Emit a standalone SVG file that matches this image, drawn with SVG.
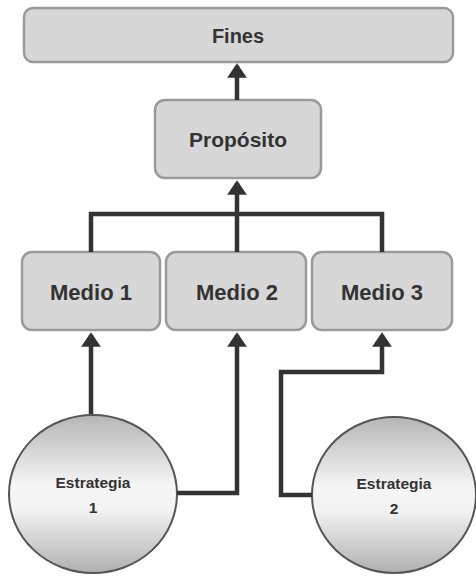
<svg xmlns="http://www.w3.org/2000/svg" width="476" height="578" viewBox="0 0 476 578">
<defs>
<style>
.box{fill:#d7d7d7;stroke:#9a9a9a;stroke-width:2.5}
.circ{fill:url(#g);stroke:#555;stroke-width:2}
.lbl{font-family:"Liberation Sans",Arial,sans-serif;font-weight:bold;fill:#333;text-anchor:middle}
.con{fill:none;stroke:#333;stroke-width:4.5}
</style>
<linearGradient id="g" x1="0" y1="0" x2="0" y2="1">
<stop offset="0" stop-color="#b5b5b5"/>
<stop offset="0.45" stop-color="#f6f6f6"/>
<stop offset="0.6" stop-color="#f2f2f2"/>
<stop offset="1" stop-color="#b0b0b0"/>
</linearGradient>
<marker id="ah" markerWidth="3.2" markerHeight="4.4" refX="2.6" refY="2.2" orient="auto" markerUnits="strokeWidth">
<path d="M0,0 L3.2,2.2 L0,4.4 z" fill="#333"/>
</marker>
</defs>
<g id="fines"><rect class="box" x="24" y="8" width="429" height="54" rx="9"/><text class="lbl" x="238" y="43" font-size="20">Fines</text></g>
<g id="proposito"><rect class="box" x="155" y="100" width="166" height="78" rx="10"/><text class="lbl" x="238" y="147" font-size="21">Propósito</text></g>
<g id="medio1"><rect class="box" x="22" y="252" width="138" height="78" rx="10"/><text class="lbl" x="91" y="300" font-size="22">Medio 1</text></g>
<g id="medio2"><rect class="box" x="166" y="252" width="140" height="78" rx="10"/><text class="lbl" x="237" y="300" font-size="22">Medio 2</text></g>
<g id="medio3"><rect class="box" x="312" y="252" width="140" height="78" rx="10"/><text class="lbl" x="382" y="300" font-size="22">Medio 3</text></g>
<g id="estrategia1"><ellipse class="circ" cx="93" cy="494" rx="84" ry="79"/><text class="lbl" x="93" y="488" font-size="15.5">Estrategia</text><text class="lbl" x="93" y="513" font-size="15.5">1</text></g>
<g id="estrategia2"><ellipse class="circ" cx="394" cy="495" rx="82" ry="78"/><text class="lbl" x="394" y="489" font-size="15.5">Estrategia</text><text class="lbl" x="394" y="514" font-size="15.5">2</text></g>
<g id="connectors">
<path class="con" d="M237,100 V66" marker-end="url(#ah)"/>
<path class="con" d="M91,252 V214 H382 V252 M237,252 V214 V183" marker-end="url(#ah)"/>
<path class="con" d="M91,414 V335" marker-end="url(#ah)"/>
<path class="con" d="M177,493 H237 V335" marker-end="url(#ah)"/>
<path class="con" d="M312,495 H281 V372 H382 V335" marker-end="url(#ah)"/>
</g>
</svg>
